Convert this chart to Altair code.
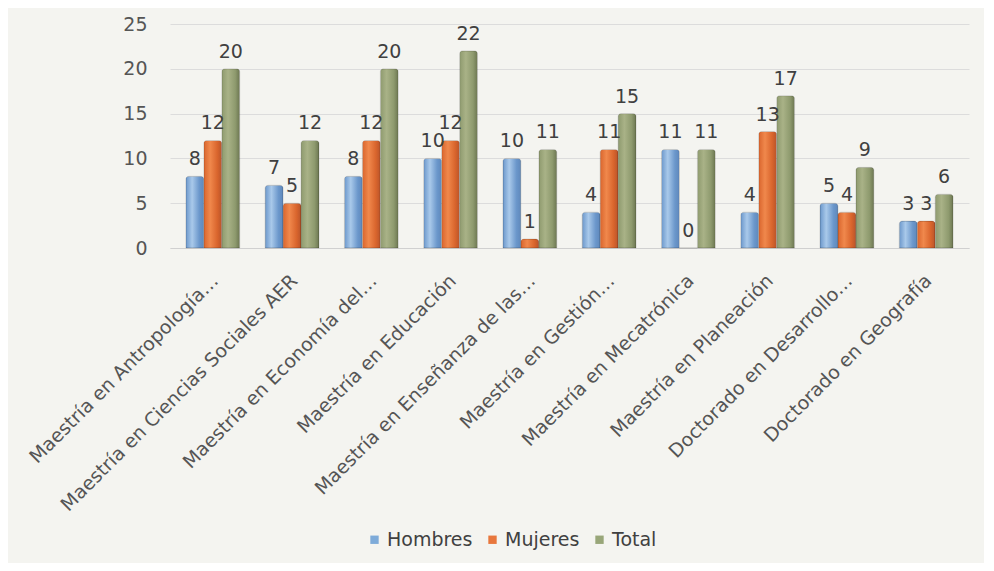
import altair as alt
import pandas as pd

categorias = [
    "Maestría en Antropología…",
    "Maestría en Ciencias Sociales AER",
    "Maestría en Economía del…",
    "Maestría en Educación",
    "Maestría en Enseñanza de las…",
    "Maestría en Gestión…",
    "Maestría en Mecatrónica",
    "Maestría en Planeación",
    "Doctorado en Desarrollo…",
    "Doctorado en Geografía",
]
hombres = [8, 7, 8, 10, 10, 4, 11, 4, 5, 3]
mujeres = [12, 5, 12, 12, 1, 11, 0, 13, 4, 3]
total = [20, 12, 20, 22, 11, 15, 11, 17, 9, 6]
series = ["Hombres", "Mujeres", "Total"]
colores = ["#7eabd9", "#e8773d", "#98a679"]
# shading (left, middle, right) to imitate the bevelled bars
sombras = {
    "Hombres": ["#6b97cb", "#a9c9ea", "#5f88bb"],
    "Mujeres": ["#d9652d", "#f0884c", "#b9542a"],
    "Total": ["#8e9a6e", "#a9b287", "#6c7651"],
}

rows = []
for i, c in enumerate(categorias):
    for s, vals in zip(series, [hombres, mujeres, total]):
        rows.append({"Programa": c, "Serie": s, "Valor": vals[i]})
df = pd.DataFrame(rows)

FONT = "DejaVu Sans"

x = alt.X("Programa:N", sort=categorias, title=None,
          scale=alt.Scale(paddingInner=0.32, paddingOuter=0.2),
          axis=alt.Axis(labelAngle=-45, labelFontSize=19, labelColor="#555555",
                        labelFont=FONT, labelLimit=400, ticks=False,
                        domainColor="#d0d0d0", labelPadding=23, labelOffset=-4,
                        grid=False))
xo = alt.XOffset("Serie:N", sort=series, scale=alt.Scale(domain=series, paddingInner=0))
y = alt.Y("Valor:Q", title=None,
          scale=alt.Scale(domain=[0, 25]),
          axis=alt.Axis(values=[0, 5, 10, 15, 20, 25], labelFontSize=19,
                        labelColor="#555555", labelFont=FONT, ticks=False,
                        domain=False, gridColor="#dcdcdc", labelPadding=23))
color = alt.Color("Serie:N", sort=series,
                  scale=alt.Scale(domain=series, range=colores),
                  legend=alt.Legend(title=None, orient="none", direction="horizontal",
                                    legendX=195, legendY=506, symbolType="square",
                                    symbolSize=70, labelFontSize=19, labelFont=FONT,
                                    labelColor="#404040", columnPadding=10,
                                    labelOffset=3, symbolStrokeWidth=0,
                                    symbolOpacity=1))

layers = []
for s in series:
    c1, c2, c3 = sombras[s]
    grad = alt.Gradient(gradient="linear", x1=0, x2=1, y1=0, y2=0,
                        stops=[alt.GradientStop(color=c1, offset=0),
                               alt.GradientStop(color=c2, offset=0.35),
                               alt.GradientStop(color=c1, offset=0.75),
                               alt.GradientStop(color=c3, offset=1)])
    layers.append(
        alt.Chart(df).transform_filter(alt.datum.Serie == s).mark_bar(
            fill=grad, stroke="#00000028", strokeWidth=0.8,
            cornerRadiusTopLeft=3, cornerRadiusTopRight=3).encode(
            x=x, xOffset=xo, y=y)
    )

legend_layer = alt.Chart(df).mark_square(size=0, opacity=1).encode(
    x=x, xOffset=xo, y=y, color=color)

labels = alt.Chart(df).mark_text(dy=-17, fontSize=19, font=FONT, color="#404040").encode(
    x=x, xOffset=xo, y=y, text="Valor:Q")

chart = alt.layer(*layers, legend_layer, labels).properties(
    width=799, height=224,
    autosize=alt.AutoSizeParams(type="none"),
    padding={"left": 162, "top": 16, "right": 15, "bottom": 315},
    background="#f4f4f0",
).configure_view(stroke=None)

chart.save("out.html", embed_options={"renderer": "svg", "actions": False})
